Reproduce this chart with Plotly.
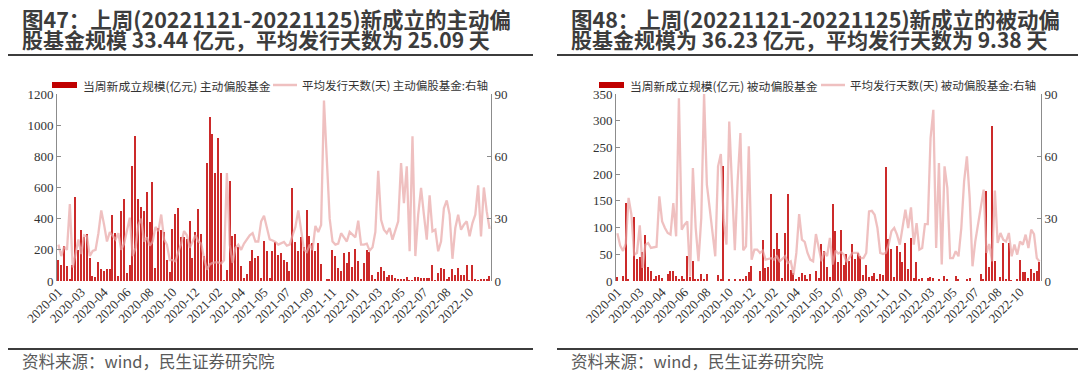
import plotly.graph_objects as go

W, H = 1080, 375

tick_labels = ["2020-01", "2020-03", "2020-04", "2020-06", "2020-08", "2020-10", "2020-12",
               "2021-02", "2021-04", "2021-05", "2021-07", "2021-09", "2021-11", "2022-01",
               "2022-03", "2022-05", "2022-07", "2022-08", "2022-10"]

# weekly points, 2020-01 .. 2022-11 (152 weeks)
active_scale = [135, 105, 227, 95, 10, 100, 541, 200, 330, 285, 302, 148, 34, 26, 122, 77, 66, 78, 79, 426,
                308, 30, 451, 524, 51, 105, 738, 933, 526, 473, 447, 573, 376, 637, 83, 340, 330, 315, 137, 58,
                334, 430, 468, 282, 282, 272, 383, 145, 314, 464, 302, 158, 757, 1050, 943, 695, 918, 693, 5, 73,
                644, 291, 302, 220, 98, 19, 47, 130, 200, 150, 158, 19, 255, 195, 20, 195, 250, 169, 180, 137,
                124, 66, 597, 250, 195, 280, 216, 455, 290, 245, 190, 242, 110, 0, 15, 9, 199, 158, 83, 66,
                178, 116, 186, 90, 203, 130, 15, 113, 197, 186, 40, 15, 56, 90, 62, 24, 36, 36, 19, 11,
                9, 9, 24, 6, 2, 24, 28, 19, 19, 17, 17, 105, 6, 49, 81, 77, 9, 24, 77, 40,
                83, 38, 40, 105, 6, 100, 11, 6, 11, 15, 12, 33.44]
active_days = [17.5, 12, 16.5, 15, 37, 6.5, 13, 20, 13, 22, 21.5, 12, 14.5, 15, 23, 34, 27, 19, 23.5, 22,
               20, 23, 15, 18, 25, 30.5, 12, 16, 27, 30, 19, 21, 17, 19, 26, 24, 32, 20, 17.5, 10,
               10, 9.5, 14, 18, 24, 22, 16, 19, 22, 19, 18, 11, 5.5, 8, 8.7, 9, 9, 8.5, 10, 52,
               17.5, 8.7, 16, 17.5, 15, 18, 20, 22, 23, 19, 19, 28.7, 31.4, 25.5, 20, 19.5, 18.8, 17.5, 18.3, 18.8,
               17, 17.5, 22, 26, 34, 24, 15, 14, 17.5, 15, 26.5, 23.6, 27, 86.8, 56, 30, 19, 17.5, 18, 23,
               21, 19, 23.6, 22.3, 21, 29, 17.5, 17.5, 18, 14.6, 16.2, 23.6, 53, 29.5, 24.7, 23, 25.5, 19.9, 24, 28.7,
               56.8, 37.5, 55.2, 14.3, 69.6, 12, 31.9, 44.8, 31.9, 19.9, 41.2, 23.9, 24.7, 14.3, 19, 35, 38.8, 31.9, 10.7, 25.5,
               31.9, 24.7, 27.1, 28.7, 21.5, 27.9, 31.9, 46, 21.5, 45, 33.5, 25.09]

passive_scale = [7, 0, 9, 146, 4, 0, 119, 42, 44, 54, 86, 27, 18, 4, 9, 12, 6, 0, 14, 19,
                 19, 9, 3, 10, 3, 46, 7, 38, 4, 3, 13, 3, 14, 0, 0, 0, 11, 3, 216, 0,
                 4, 0, 2, 0, 2, 4, 10, 17, 28, 0, 0, 18, 77, 24, 27, 162, 59, 89, 59, 6,
                 89, 163, 21, 15, 2, 7, 15, 12, 3, 14, 0, 19, 6, 69, 57, 26, 8, 145, 93, 35,
                 96, 30, 50, 37, 70, 42, 52, 46, 12, 30, 7, 10, 15, 2, 14, 12, 213, 78, 60, 8,
                 65, 54, 35, 72, 23, 81, 6, 35, 2, 6, 0, 6, 7, 6, 0, 2, 0, 10, 2, 0,
                 0, 9, 4, 0, 0, 2, 5, 0, 0, 0, 13, 4, 168, 27, 291, 38, 0, 8, 72, 2,
                 72, 1, 0, 2, 40, 17, 17, 6, 22, 15, 19, 36.23]
passive_days = [23, 17, 14.5, 18, 40, 32, 12.7, 13.5, 26.8, 6.3, 17.5, 18.3, 15.9, 16.2, 16.5, 40.7, 28.7, 25.5, 23.1, 22.3,
                37.5, 21.5, 88, 24.7, 27.1, 28.7, 2.2, 54.4, 25.5, 9.5, 30.3, 90, 46.4, 35.1, 22.3, 11.9, 55.2, 61.1, 29.5, 17.5,
                76.8, 46.4, 14.8, 48, 71.2, 14.8, 16.7, 64.8, 10.3, 15.1, 15.1, 13.5, 14.6, 10.3, 10.7, 11, 10.3, 11.9, 9.5, 10.6,
                11.9, 8.7, 9.5, 3, 13.5, 32.2, 19.9, 18.8, 13.5, 10.3, 9.5, 22.6, 15.9, 9.5, 14,
                12, 20.7, 7.9, 14.6, 13.2, 14, 12.7, 9.1, 11, 13.5, 13.5, 13.5, 11, 11, 13.5,
                33.5, 33.8, 31.9, 25.5, 13.5, 13, 13.5, 17.5, 23.9, 25.5, 22.3, 17.5, 27.1, 34.3, 25.5, 35.4, 17.5, 27.9, 15.1, 15.9,
                27.4, 27.4, 68.8,
                82.4, 15.9, 56.8, 7.9, 55.2, 44.8, 11, 11, 14.3, 11.9, 25.5, 48, 60, 39.9, 7.1, 19.1, 27.9, 36.7, 44, 13.5,
                17.8, 9.5, 43.5, 18.3, 23.1, 19.9, 19, 23.1, 11.9, 17.5, 12.7, 19, 17.5, 22.3, 15.9, 24.7, 22.6, 11, 9.38]

weeks = list(range(len(active_scale)))

BAR = "#C00000"
BAR_DRAW = "#CC2A2A"
LINE = "rgba(232,165,165,0.7)"
SERIF = "Liberation Serif"
CJK = "Noto Sans CJK SC"

fig = go.Figure()
fig.add_trace(go.Bar(x=weeks, y=active_scale, width=0.5, marker=dict(color=BAR_DRAW, line=dict(width=0)),
                     xaxis="x", yaxis="y", showlegend=False))
fig.add_trace(go.Scatter(x=list(range(len(active_days))), y=active_days, mode="lines",
                         line=dict(color=LINE, width=2.3), xaxis="x", yaxis="y2", showlegend=False))
fig.add_trace(go.Bar(x=list(range(len(passive_scale))), y=passive_scale, width=0.5,
                     marker=dict(color=BAR_DRAW, line=dict(width=0)), xaxis="x2", yaxis="y3", showlegend=False))
fig.add_trace(go.Scatter(x=list(range(len(passive_days))), y=passive_days, mode="lines",
                         line=dict(color=LINE, width=2.3), xaxis="x2", yaxis="y4", showlegend=False))

def px(x):
    return x / W

def py(y):
    return 1 - y / H

ydom = [py(281), py(94)]
tickvals = list(range(0, 8 * len(tick_labels), 8))
xcommon = dict(range=[-0.5, 151.5], tickvals=tickvals, ticktext=tick_labels, tickangle=-45,
               showgrid=False, zeroline=False, showline=False, ticks="", automargin=False,
               tickfont=dict(family=SERIF, size=13, color="#333333"))
ycommon = dict(showgrid=False, zeroline=False, showline=True, linecolor="#8c8c8c", linewidth=1,
               ticks="inside", ticklen=4, tickcolor="#8c8c8c", automargin=False,
               tickfont=dict(family=SERIF, size=13, color="#333333"), domain=ydom)

fig.update_layout(
    width=W, height=H, margin=dict(l=0, r=0, t=0, b=0, autoexpand=False),
    paper_bgcolor="white", plot_bgcolor="white", bargap=0, showlegend=False,
    xaxis=dict(domain=[px(57), px(491)], anchor="y", **xcommon),
    yaxis=dict(range=[0, 1200], dtick=200, anchor="x", **ycommon),
    yaxis2=dict(range=[0, 90], dtick=30, overlaying="y", side="right", anchor="x", **ycommon),
    xaxis2=dict(domain=[px(616), px(1041)], anchor="y3", **xcommon),
    yaxis3=dict(range=[0, 350], dtick=50, anchor="x2", **ycommon),
    yaxis4=dict(range=[0, 90], dtick=30, overlaying="y3", side="right", anchor="x2", **ycommon),
)

shapes = []
annotations = []

def panel(x0, x1, title1, title2, leg1, leg2, lx_bar, lx_line):
    annotations.append(dict(x=px(x0 + 12), y=py(18), xref="paper", yref="paper", xanchor="left",
                            yanchor="middle", showarrow=False, text="<b>%s</b>" % title1,
                            font=dict(family=CJK, size=21.5, color="#3c3c3c")))
    annotations.append(dict(x=px(x0 + 12), y=py(39.5), xref="paper", yref="paper", xanchor="left",
                            yanchor="middle", showarrow=False, text="<b>%s</b>" % title2,
                            font=dict(family=CJK, size=21, color="#3c3c3c")))
    shapes.append(dict(type="line", xref="paper", yref="paper", x0=px(x0), x1=px(x1),
                       y0=py(55), y1=py(55), line=dict(color="#3c3c3c", width=2)))
    shapes.append(dict(type="line", xref="paper", yref="paper", x0=px(x0), x1=px(x1),
                       y0=py(349), y1=py(349), line=dict(color="#3c3c3c", width=2)))
    annotations.append(dict(x=px(x0 + 12), y=py(361), xref="paper", yref="paper", xanchor="left",
                            yanchor="middle", showarrow=False, text="资料来源：wind，民生证券研究院",
                            font=dict(family=CJK, size=16.5, color="#5a5a5a")))
    # legend
    shapes.append(dict(type="rect", xref="paper", yref="paper", x0=px(lx_bar), x1=px(lx_bar + 25),
                       y0=py(88), y1=py(82), fillcolor=BAR, line=dict(width=0)))
    annotations.append(dict(x=px(lx_bar + 29), y=py(85), xref="paper", yref="paper", xanchor="left",
                            yanchor="middle", showarrow=False, text=leg1,
                            font=dict(family=CJK, size=11.8, color="#333333")))
    shapes.append(dict(type="line", xref="paper", yref="paper", x0=px(lx_line), x1=px(lx_line + 24),
                       y0=py(85), y1=py(85), line=dict(color=LINE, width=2.5)))
    annotations.append(dict(x=px(lx_line + 27), y=py(85), xref="paper", yref="paper", xanchor="left",
                            yanchor="middle", showarrow=False, text=leg2,
                            font=dict(family=CJK, size=11.5, color="#333333")))

panel(8, 533, "图47：上周(20221121-20221125)新成立的主动偏",
      "股基金规模 33.44 亿元，平均发行天数为 25.09 天",
      "当周新成立规模(亿元) 主动偏股基金", "平均发行天数(天) 主动偏股基金:右轴", 52, 273)
panel(557, 1078, "图48：上周(20221121-20221125)新成立的被动偏",
      "股基金规模为 36.23 亿元，平均发行天数为 9.38 天",
      "当周新成立规模(亿元) 被动偏股基金", "平均发行天数(天) 被动偏股基金:右轴", 599, 821)

fig.update_layout(shapes=shapes, annotations=annotations)
fig.write_html("out.html", config={"displayModeBar": False},
               post_script="document.body.style.margin='0';")
